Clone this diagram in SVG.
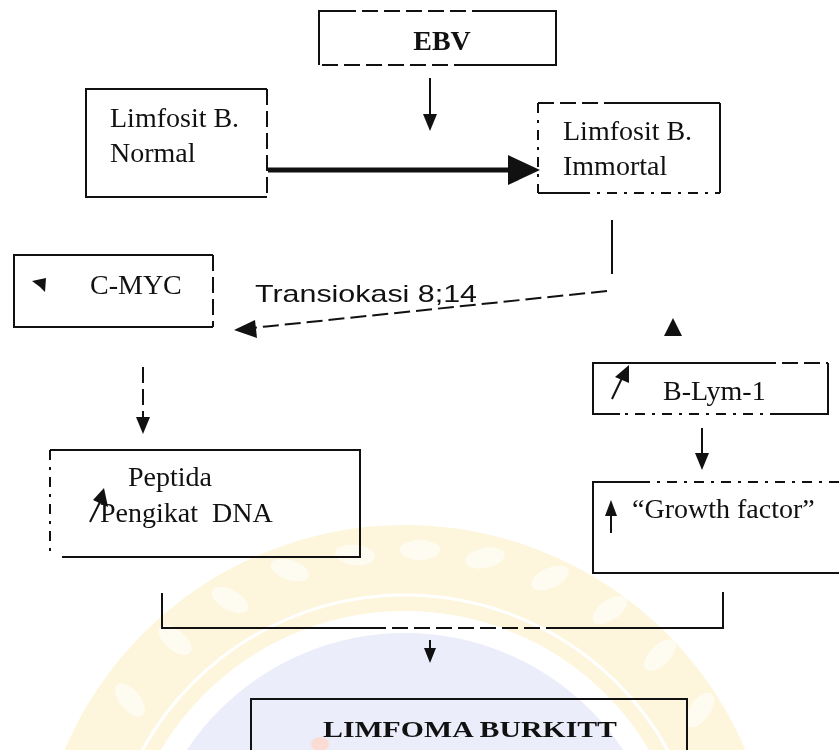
<svg xmlns="http://www.w3.org/2000/svg" width="839" height="750" viewBox="0 0 839 750">
<style>
.b{fill:none;stroke:#111;stroke-width:2}
.d{fill:none;stroke:#111;stroke-width:2;stroke-dasharray:16 6}
.dd{fill:none;stroke:#111;stroke-width:2;stroke-dasharray:10 7 3 7}
.t{font-family:"Liberation Serif","Times New Roman",serif;font-size:28px;fill:#111}
.tb{font-family:"Liberation Serif","Times New Roman",serif;font-weight:bold;fill:#111}
.s{font-family:"Liberation Sans",Arial,sans-serif;font-size:24px;fill:#111}
.h{fill:#111}
</style>
<rect width="839" height="750" fill="#fff"/>
<g id="watermark">
<circle cx="405" cy="895" r="327" fill="none" stroke="#FDF6DD" stroke-width="86"/>
<circle cx="405" cy="895" r="300" fill="none" stroke="#fff" stroke-width="3"/>
<g fill="#fff" opacity="0.6">
<ellipse cx="130" cy="700" rx="10" ry="20" transform="rotate(-40 130 700)"/>
<ellipse cx="175" cy="640" rx="10" ry="20" transform="rotate(-50 175 640)"/>
<ellipse cx="230" cy="600" rx="10" ry="20" transform="rotate(-62 230 600)"/>
<ellipse cx="290" cy="570" rx="10" ry="20" transform="rotate(-72 290 570)"/>
<ellipse cx="355" cy="555" rx="10" ry="20" transform="rotate(-84 355 555)"/>
<ellipse cx="420" cy="550" rx="10" ry="20" transform="rotate(90 420 550)"/>
<ellipse cx="485" cy="558" rx="10" ry="20" transform="rotate(78 485 558)"/>
<ellipse cx="550" cy="578" rx="10" ry="20" transform="rotate(66 550 578)"/>
<ellipse cx="610" cy="610" rx="10" ry="20" transform="rotate(55 610 610)"/>
<ellipse cx="660" cy="655" rx="10" ry="20" transform="rotate(45 660 655)"/>
<ellipse cx="700" cy="710" rx="10" ry="20" transform="rotate(35 700 710)"/>
</g>
<circle cx="405" cy="895" r="262" fill="#EBEDFB"/>
<ellipse cx="320" cy="744" rx="9" ry="7" fill="#FADCD5"/>
</g>
<g id="connectors">
<line class="b" x1="430" y1="78" x2="430" y2="116"/>
<polygon class="h" points="423,114 437,114 430,131"/>
<line x1="268" y1="170" x2="512" y2="170" stroke="#111" stroke-width="5"/>
<polygon class="h" points="508,155 540,170 508,185"/>
<line class="b" x1="612" y1="220" x2="612" y2="274"/>
<line class="d" x1="607" y1="291" x2="252" y2="328"/>
<polygon class="h" points="234,330 255,320 257,338"/>
<polygon class="h" points="673,318 664,336 682,336"/>
<line class="d" x1="143" y1="367" x2="143" y2="420"/>
<polygon class="h" points="136,417 150,417 143,434"/>
<line class="b" x1="702" y1="428" x2="702" y2="455"/>
<polygon class="h" points="695,453 709,453 702,470"/>
<path class="b" d="M162,593 V628 H370"/>
<line class="d" x1="370" y1="628" x2="560" y2="628"/>
<path class="b" d="M560,628 H723 V592"/>
<line class="b" x1="430" y1="640" x2="430" y2="652"/>
<polygon class="h" points="424,648 436,648 430,663"/>
</g>
<g id="ebv">
<path class="b" d="M319,65 V11 H340"/>
<line class="d" x1="340" y1="11" x2="480" y2="11"/>
<path class="b" d="M480,11 H556 V65 H470"/>
<line class="d" x1="470" y1="65" x2="319" y2="65"/>
<text class="tb" x="442" y="50" font-size="28" text-anchor="middle">EBV</text>
</g>
<g id="normal">
<path class="b" d="M267,89 H86 V197 H267"/>
<line class="d" x1="267" y1="89" x2="267" y2="197"/>
<text class="t" x="110" y="127">Limfosit B.</text>
<text class="t" x="110" y="162">Normal</text>
</g>
<g id="immortal">
<path class="b" d="M720,103 V193"/>
<path class="b" d="M620,103 H720"/>
<line class="d" x1="620" y1="103" x2="538" y2="103"/>
<line class="dd" x1="538" y1="103" x2="538" y2="193"/>
<path class="b" d="M538,193 H580"/>
<line class="dd" x1="580" y1="193" x2="720" y2="193"/>
<text class="t" x="563" y="140">Limfosit B.</text>
<text class="t" x="563" y="175">Immortal</text>
</g>
<g id="cmyc">
<path class="b" d="M213,255 H14 V327 H190"/>
<line class="d" x1="190" y1="255" x2="213" y2="255"/>
<line class="d" x1="213" y1="255" x2="213" y2="327"/>
<line class="b" x1="190" y1="327" x2="213" y2="327"/>
<polygon class="h" points="32,281 46,278 45,292 40,287"/>
<text class="t" x="90" y="294">C-MYC</text>
<text class="s" x="255" y="302" textLength="222" lengthAdjust="spacingAndGlyphs">Transiokasi 8;14</text>
</g>
<g id="blym">
<path class="b" d="M760,363 H593 V414 H620"/>
<line class="d" x1="760" y1="363" x2="828" y2="363"/>
<path class="b" d="M828,363 V414 H780"/>
<line class="dd" x1="780" y1="414" x2="620" y2="414"/>
<line class="b" x1="612" y1="399" x2="622" y2="378"/>
<polygon class="h" points="629,365 629,383 615,377"/>
<text class="t" x="663" y="400">B-Lym-1</text>
</g>
<g id="peptida">
<path class="b" d="M50,450 H360 V557 H62"/>
<line class="dd" x1="50" y1="450" x2="50" y2="557"/>
<line class="b" x1="90" y1="522" x2="100" y2="502"/>
<polygon class="h" points="104,488 108,507 93,500"/>
<text class="t" x="128" y="486">Peptida</text>
<text class="t" x="100" y="522" xml:space="preserve" style="white-space:pre">Pengikat  DNA</text>
</g>
<g id="growth">
<path class="b" d="M640,482 H593 V573 H845"/>
<line class="dd" x1="640" y1="482" x2="845" y2="482"/>
<line class="b" x1="611" y1="533" x2="611" y2="512"/>
<polygon class="h" points="605,516 617,516 611,500"/>
<text class="t" x="632" y="518">“Growth factor”</text>
</g>
<g id="limfoma">
<path class="b" d="M251,760 V699 H687 V760"/>
<text class="tb" x="323" y="737" font-size="24" textLength="294" lengthAdjust="spacingAndGlyphs">LIMFOMA BURKITT</text>
</g>
</svg>
